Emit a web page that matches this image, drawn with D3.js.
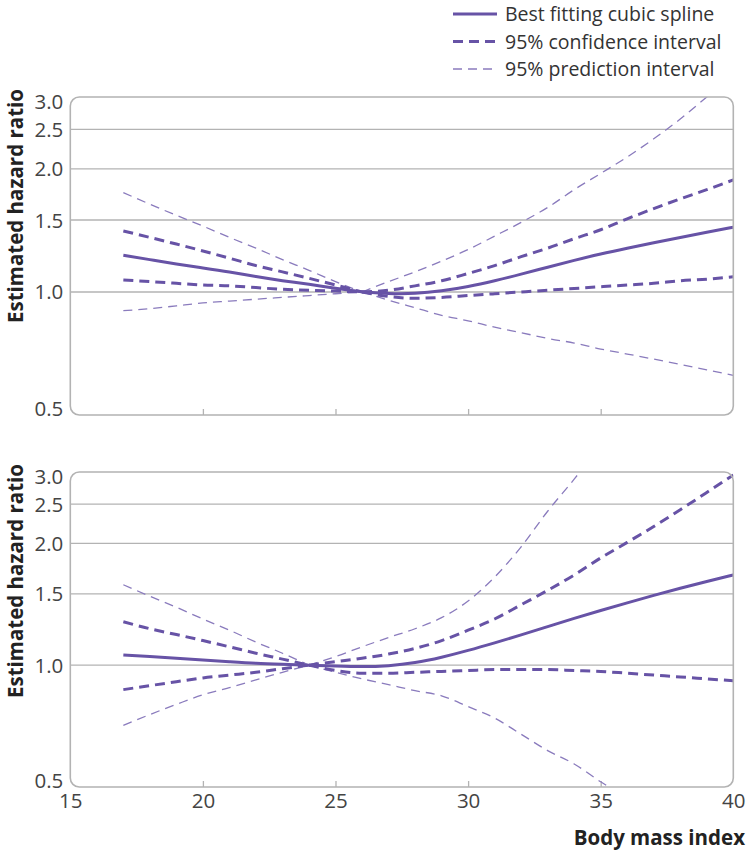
<!DOCTYPE html>
<html>
<head>
<meta charset="utf-8">
<script src="https://cdn.jsdelivr.net/npm/d3@7"></script>
<style>
  html, body { margin: 0; padding: 0; background: #fff; }
  svg { display: block; }
  text { font-family: "Open Sans", "DejaVu Sans", sans-serif; }
</style>
</head>
<body>
<svg id="chart" width="746" height="853"></svg>
<script>
// ---------- data ----------
const bmi = [17,18,19,20,21,22,23,24,25,26,27,28,29,30,31,32,33,34,35,36,37,38,39,40];
const yTicks = [0.5, 1.0, 1.5, 2.0, 2.5, 3.0];
const xTicks = [15, 20, 25, 30, 35, 40];
const legendLabels = ["Best fitting cubic spline", "95% confidence interval", "95% prediction interval"];
const referenceBmi = [26, 24];

// top panel (reference BMI 26)
const topSpline  = [1.23,1.20,1.17,1.145,1.12,1.09,1.065,1.045,1.02,1.0,0.99,0.99,1.005,1.03,1.065,1.105,1.15,1.195,1.24,1.28,1.32,1.36,1.40,1.44];
const topCIUpper = [1.41,1.36,1.31,1.26,1.21,1.16,1.12,1.08,1.04,1.0,1.01,1.035,1.065,1.11,1.16,1.22,1.28,1.35,1.42,1.51,1.60,1.69,1.78,1.88];
const topCILower = [1.07,1.06,1.05,1.04,1.035,1.025,1.015,1.01,1.005,1.0,0.975,0.965,0.97,0.98,0.99,1.0,1.01,1.02,1.03,1.04,1.05,1.065,1.075,1.09];
const topPIUpper = [1.75,1.64,1.54,1.45,1.36,1.28,1.20,1.13,1.06,1.0,1.06,1.12,1.19,1.27,1.37,1.48,1.61,1.78,1.95,2.14,2.37,2.65,3.0,3.4];
const topPILower = [0.90,0.91,0.925,0.94,0.95,0.96,0.97,0.98,0.99,1.0,0.955,0.915,0.877,0.85,0.82,0.795,0.77,0.75,0.725,0.705,0.685,0.665,0.645,0.625];

// bottom panel (reference BMI 24)
const botSpline  = [1.06,1.05,1.04,1.03,1.02,1.01,1.005,1.0,0.995,0.99,0.995,1.012,1.045,1.087,1.135,1.187,1.245,1.305,1.365,1.425,1.487,1.55,1.61,1.67];
const botCIUpper = [1.28,1.23,1.19,1.15,1.11,1.07,1.035,1.0,1.02,1.04,1.065,1.10,1.15,1.22,1.30,1.41,1.53,1.67,1.84,2.01,2.20,2.42,2.67,2.95];
const botCILower = [0.87,0.89,0.91,0.93,0.945,0.96,0.98,1.0,0.97,0.955,0.955,0.96,0.965,0.97,0.975,0.975,0.975,0.97,0.965,0.955,0.945,0.935,0.925,0.915];
const botPIUpper = [1.58,1.48,1.39,1.30,1.22,1.14,1.07,1.0,1.05,1.11,1.17,1.23,1.31,1.44,1.65,1.96,2.40,2.88,3.5];
const botPILower = [0.71,0.755,0.80,0.845,0.88,0.92,0.96,1.0,0.96,0.925,0.895,0.865,0.84,0.79,0.74,0.675,0.615,0.57,0.515,0.47];

// ---------- styles ----------
const purple = "#6753a6";
const purpleLight = "#8a7bbd";
const gridColor = "#b3b3b3";
const textColor = "#444";

const styles = {
  spline: { stroke: purple, width: 3, dash: null, split: false },
  ci:     { stroke: purple, width: 3, dash: "10,6", split: true },
  pi:     { stroke: purpleLight, width: 1.3, dash: "9,6", split: true }
};

const svg = d3.select("#chart");
const x = d3.scaleLinear().domain([15, 40]).range([70.3, 733.3]);

const panels = [
  { top: 97, bottom: 415, showXLabels: false, ref: referenceBmi[0],
    series: [
      { v: topPIUpper, s: styles.pi }, { v: topPILower, s: styles.pi },
      { v: topCIUpper, s: styles.ci }, { v: topCILower, s: styles.ci },
      { v: topSpline,  s: styles.spline }
    ] },
  { top: 472, bottom: 787, showXLabels: true, ref: referenceBmi[1],
    series: [
      { v: botPIUpper, s: styles.pi }, { v: botPILower, s: styles.pi },
      { v: botCIUpper, s: styles.ci }, { v: botCILower, s: styles.ci },
      { v: botSpline,  s: styles.spline }
    ] }
];

panels.forEach((p, i) => {
  const y = d3.scaleLog().domain([0.5, 3]).range([p.bottom, p.top]);
  const g = svg.append("g");
  const x0 = x.range()[0], x1 = x.range()[1];

  const clipId = "clip" + i;
  svg.append("clipPath").attr("id", clipId)
    .append("rect").attr("x", x0).attr("y", p.top).attr("width", x1 - x0).attr("height", p.bottom - p.top);

  const yAxis = d3.axisLeft(y).tickValues(yTicks).tickFormat(d3.format(".1f")).tickSize(0).tickPadding(7);
  const ag = g.append("g").attr("transform", `translate(${x0},0)`).call(yAxis);
  ag.select(".domain").remove();
  ag.selectAll("text").attr("fill", textColor).style("font-size", "20.5px")
    .style("font-family", '"Open Sans", sans-serif')
    .attr("dy", d => d === 3.0 ? "0.55em" : d === 0.5 ? "0.02em" : "0.34em");

  g.append("g").selectAll("line").data(yTicks.filter(d => d > 0.5 && d < 3))
    .join("line")
    .attr("x1", x0).attr("x2", x1)
    .attr("y1", d => y(d)).attr("y2", d => y(d))
    .attr("stroke", gridColor).attr("stroke-width", 1.3);

  const xAxis = d3.axisTop(x).tickValues(xTicks.filter(d => d > 15 && d < 40)).tickSize(6).tickFormat("");
  const xg = g.append("g").attr("transform", `translate(0,${p.bottom})`).call(xAxis);
  xg.select(".domain").remove();
  xg.selectAll("line").attr("stroke", gridColor).attr("stroke-width", 1.3);

  const lg = g.append("g").attr("clip-path", `url(#${clipId})`);
  const refIdx = bmi.indexOf(p.ref);
  p.series.forEach(sr => {
    const pts = sr.v.map((v, k) => [bmi[k], v]);
    let d;
    if (sr.s.split) {
      const line = d3.line().x(q => x(q[0])).y(q => y(q[1])).curve(d3.curveMonotoneX);
      d = line(pts.slice(0, refIdx + 1)) + line(pts.slice(refIdx));
    } else {
      d = d3.line().x(q => x(q[0])).y(q => y(q[1])).curve(d3.curveBasis)(pts);
    }
    lg.append("path").attr("d", d)
      .attr("fill", "none")
      .attr("stroke", sr.s.stroke)
      .attr("stroke-width", sr.s.width)
      .attr("stroke-dasharray", sr.s.dash)
      .attr("stroke-linecap", "butt");
  });

  g.append("rect")
    .attr("x", x0).attr("y", p.top).attr("width", x1 - x0).attr("height", p.bottom - p.top)
    .attr("rx", 9).attr("ry", 9)
    .attr("fill", "none").attr("stroke", gridColor).attr("stroke-width", 1.6);

  svg.append("text")
    .attr("transform", `translate(23,${p.top - 8}) rotate(-90)`)
    .attr("text-anchor", "end")
    .attr("fill", "#222")
    .style("font-size", "20.5px").style("font-weight", "700")
    .text("Estimated hazard ratio");

  if (p.showXLabels) {
    const xl = d3.axisBottom(x).tickValues(xTicks).tickSize(0).tickPadding(6);
    const xlg = svg.append("g").attr("transform", `translate(0,${p.bottom})`).call(xl);
    xlg.select(".domain").remove();
    xlg.selectAll("text").attr("fill", textColor).style("font-size", "20.5px")
      .style("font-family", '"Open Sans", sans-serif');
  }
});

svg.append("text")
  .attr("x", 745).attr("y", 845)
  .attr("text-anchor", "end")
  .attr("fill", "#222")
  .style("font-size", "20.5px").style("font-weight", "700")
  .text("Body mass index");

const legend = svg.append("g");
const legendStyles = [styles.spline, styles.ci, styles.pi];
legendLabels.forEach((lab, k) => {
  const base = 21 + k * 27.5;
  legend.append("line")
    .attr("x1", 453).attr("x2", 497).attr("y1", base - 7).attr("y2", base - 7)
    .attr("stroke", legendStyles[k].stroke)
    .attr("stroke-width", legendStyles[k].width)
    .attr("stroke-dasharray", legendStyles[k].dash);
  legend.append("text")
    .attr("x", 505).attr("y", base)
    .attr("fill", "#333")
    .style("font-size", "19.5px")
    .text(lab);
});
</script>
</body>
</html>
